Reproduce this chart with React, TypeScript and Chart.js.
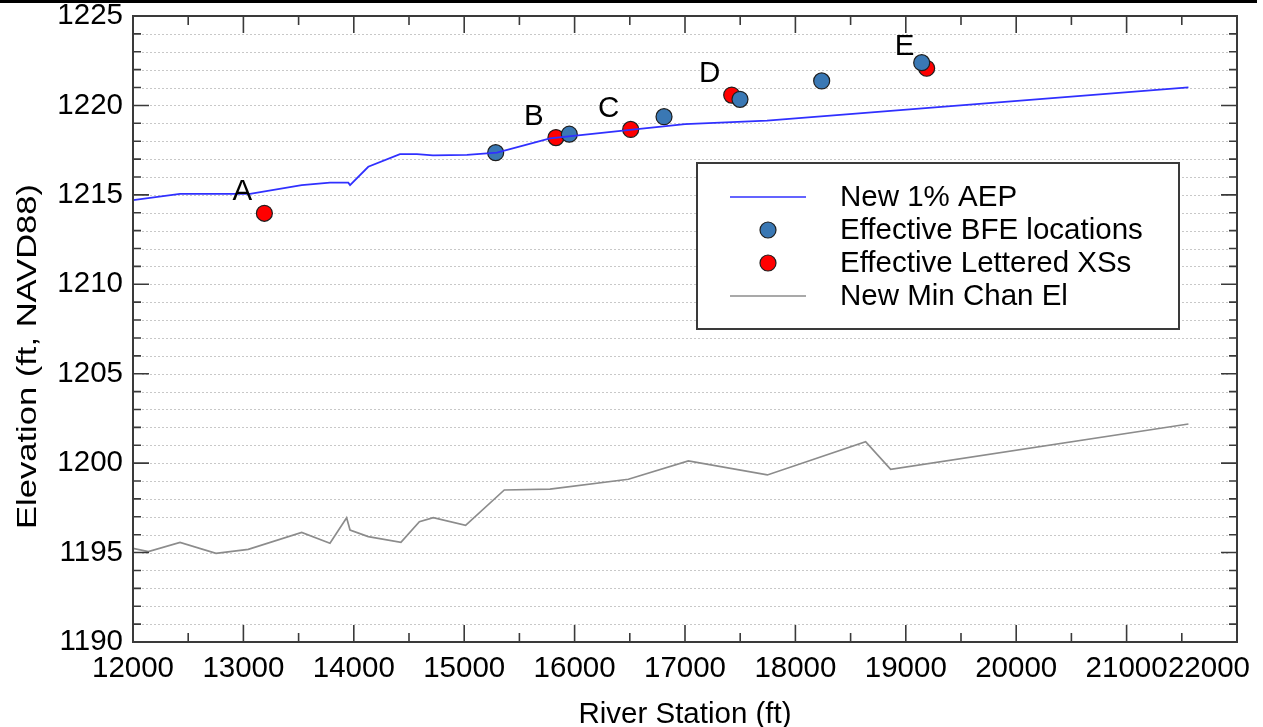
import React, { useEffect, useRef } from 'react';
import { Chart, registerables } from 'chart.js';

Chart.register(...registerables);

// ---- Data ----
const aepStations = [12000, 12426, 13060, 13528, 13784, 13950, 13966, 14131, 14418, 14572, 14717, 15025, 15297, 15777, 16502, 17000, 17743, 21560];
const aepElev = [1214.71, 1215.05, 1215.05, 1215.55, 1215.68, 1215.68, 1215.55, 1216.57, 1217.28, 1217.28, 1217.21, 1217.24, 1217.36, 1218.16, 1218.63, 1218.95, 1219.15, 1221.01];

const minChanStations = [12000, 12139, 12426, 12752, 13044, 13528, 13784, 13935, 13966, 14131, 14427, 14594, 14720, 15013, 15363, 15777, 16487, 17030, 17746, 18636, 18863, 21560];
const minChanElev = [1195.24, 1195.05, 1195.57, 1194.96, 1195.18, 1196.13, 1195.52, 1196.95, 1196.26, 1195.89, 1195.57, 1196.73, 1196.95, 1196.52, 1198.5, 1198.55, 1199.1, 1200.12, 1199.34, 1201.2, 1199.65, 1202.19];

const bfeStations = [15285, 15952, 16810, 17498, 18238, 19144];
const bfeElev = [1217.36, 1218.39, 1219.37, 1220.34, 1221.37, 1222.39];

const xsStations = [13190, 15831, 16508, 17423, 19189];
const xsElev = [1213.97, 1218.2, 1218.66, 1220.58, 1222.08];
const xsLetters = ['A', 'B', 'C', 'D', 'E'];

const xTickValues = [12000, 13000, 14000, 15000, 16000, 17000, 18000, 19000, 20000, 21000, 22000];
const yTickValues = [1190, 1195, 1200, 1205, 1210, 1215, 1220, 1225];

const legendLabels = ['New 1% AEP', 'Effective BFE locations', 'Effective Lettered XSs', 'New Min Chan El'];
const xTitle = 'River Station (ft)';
const yTitle = 'Elevation (ft, NAVD88)';

// ---- Styles ----
const FONT = '"Liberation Sans", Arial, sans-serif';
const BLUE_LINE = '#3030ff';
const GRAY_LINE = '#8c8c8c';
const BFE_FILL = '#3a78b4';
const XS_FILL = '#ff0000';
const MARKER_EDGE = '#1e1e1e';
const FRAME = '#3a3a3a';
const MARKER_R = 8;

const toXY = (xs: number[], ys: number[]) => xs.map((x, i) => ({ x, y: ys[i] }));

const decorPlugin = {
  id: 'decor',
  beforeDatasetsDraw(chart: any) {
    const { ctx, chartArea: a, scales } = chart;
    const y = scales.y;
    ctx.save();
    ctx.strokeStyle = '#c8c8c8';
    ctx.lineWidth = 1;
    ctx.setLineDash([2, 2]);
    for (let v = y.min + 1; v < y.max; v++) {
      const py = Math.round(y.getPixelForValue(v)) + 0.5;
      ctx.beginPath();
      ctx.moveTo(a.left + 9, py);
      ctx.lineTo(a.right - 9, py);
      ctx.stroke();
    }
    ctx.restore();
  },
  afterDatasetsDraw(chart: any) {
    const { ctx, chartArea: a, scales } = chart;
    const x = scales.x;
    const y = scales.y;
    ctx.save();
    // ticks
    ctx.strokeStyle = FRAME;
    ctx.lineWidth = 1.6;
    ctx.beginPath();
    for (let v = y.min; v <= y.max; v++) {
      const len = v % 5 === 0 ? 16 : 8;
      const py = y.getPixelForValue(v);
      ctx.moveTo(a.left, py);
      ctx.lineTo(a.left + len, py);
      ctx.moveTo(a.right, py);
      ctx.lineTo(a.right - len, py);
    }
    for (let v = x.min; v <= x.max; v += 500) {
      const len = v % 1000 === 0 ? 17 : 9;
      const px = x.getPixelForValue(v);
      ctx.moveTo(px, a.bottom);
      ctx.lineTo(px, a.bottom - len);
      ctx.moveTo(px, a.top);
      ctx.lineTo(px, a.top + len);
    }
    ctx.stroke();
    // frame
    ctx.lineWidth = 2;
    ctx.strokeRect(a.left, a.top, a.right - a.left, a.bottom - a.top);

    // x tick labels (last one kept inside the picture)
    ctx.fillStyle = '#000';
    ctx.font = `29.5px ${FONT}`;
    ctx.textAlign = 'left';
    ctx.textBaseline = 'alphabetic';
    xTickValues.forEach((v) => {
      const t = String(v);
      const w = ctx.measureText(t).width;
      let left = x.getPixelForValue(v) - w / 2;
      if (left + w > chart.width - 13) left = chart.width - 13 - w;
      ctx.fillText(t, left, a.bottom + 35);
    });

    // x title
    ctx.textAlign = 'center';
    ctx.font = `29.5px ${FONT}`;
    ctx.fillText(xTitle, (a.left + a.right) / 2, a.bottom + 81);

    // letter labels
    const meta = chart.getDatasetMeta(3);
    ctx.font = `29.5px ${FONT}`;
    ctx.textAlign = 'center';
    ctx.textBaseline = 'middle';
    meta.data.forEach((pt: any, i: number) => {
      ctx.fillText(xsLetters[i], pt.x - 22, pt.y - 21);
    });

    // legend
    const lx = 697, ly = 163, lw = 482, lh = 166;
    ctx.fillStyle = '#fff';
    ctx.fillRect(lx, ly, lw, lh);
    ctx.strokeStyle = FRAME;
    ctx.lineWidth = 2;
    ctx.strokeRect(lx, ly, lw, lh);
    const rows = [197, 230, 263, 296];
    ctx.lineWidth = 1.7;
    ctx.strokeStyle = BLUE_LINE;
    ctx.beginPath(); ctx.moveTo(730, rows[0]); ctx.lineTo(806, rows[0]); ctx.stroke();
    ctx.strokeStyle = GRAY_LINE;
    ctx.beginPath(); ctx.moveTo(730, rows[3]); ctx.lineTo(806, rows[3]); ctx.stroke();
    const drawMarker = (cx: number, cy: number, fill: string) => {
      ctx.beginPath();
      ctx.arc(cx, cy, MARKER_R, 0, Math.PI * 2);
      ctx.fillStyle = fill;
      ctx.fill();
      ctx.lineWidth = 1.2;
      ctx.strokeStyle = MARKER_EDGE;
      ctx.stroke();
    };
    drawMarker(768, rows[1], BFE_FILL);
    drawMarker(768, rows[2], XS_FILL);
    ctx.fillStyle = '#000';
    ctx.textAlign = 'left';
    ctx.textBaseline = 'middle';
    ctx.font = `29.5px ${FONT}`;
    legendLabels.forEach((t, i) => ctx.fillText(t, 840, rows[i] + 1));

    // y title (stretched along its length like the reference)
    ctx.save();
    ctx.translate(36, 356.5);
    ctx.rotate(-Math.PI / 2);
    ctx.scale(1.28, 1);
    ctx.font = `27px ${FONT}`;
    ctx.textAlign = 'center';
    ctx.textBaseline = 'alphabetic';
    ctx.fillStyle = '#000';
    ctx.fillText(yTitle, 0, 0);
    ctx.restore();

    ctx.restore();
  },
};

export default function App() {
  const ref = useRef<HTMLCanvasElement | null>(null);

  useEffect(() => {
    if (!ref.current) return;
    const chart = new Chart(ref.current, {
      type: 'scatter',
      data: {
        datasets: [
          {
            label: legendLabels[0],
            data: toXY(aepStations, aepElev),
            showLine: true,
            borderColor: BLUE_LINE,
            borderWidth: 1.8,
            pointRadius: 0,
            tension: 0,
            order: 1,
          },
          {
            label: legendLabels[3],
            data: toXY(minChanStations, minChanElev),
            showLine: true,
            borderColor: GRAY_LINE,
            borderWidth: 1.7,
            pointRadius: 0,
            tension: 0,
            order: 2,
          },
          {
            label: legendLabels[1],
            data: toXY(bfeStations, bfeElev),
            pointRadius: MARKER_R,
            pointBackgroundColor: BFE_FILL,
            pointBorderColor: MARKER_EDGE,
            pointBorderWidth: 1.2,
            order: 3,
          },
          {
            label: legendLabels[2],
            data: toXY(xsStations, xsElev),
            pointRadius: MARKER_R,
            pointBackgroundColor: XS_FILL,
            pointBorderColor: MARKER_EDGE,
            pointBorderWidth: 1.2,
            order: 4,
          },
        ],
      },
      options: {
        responsive: false,
        animation: false,
        devicePixelRatio: 1,
        layout: { padding: { left: 0, top: 16, right: 26, bottom: 0 } },
        plugins: {
          legend: { display: false },
          tooltip: { enabled: false },
        },
        scales: {
          x: {
            type: 'linear',
            min: xTickValues[0],
            max: xTickValues[xTickValues.length - 1],
            afterBuildTicks: (s: any) => {
              s.ticks = xTickValues.map((v) => ({ value: v }));
            },
            afterFit: (s: any) => {
              s.height = 85;
              s.paddingLeft = 0;
              s.paddingRight = 0;
            },
            grid: { display: false, drawTicks: false },
            border: { display: false },
            ticks: { display: false },
          },
          y: {
            type: 'linear',
            min: yTickValues[0],
            max: yTickValues[yTickValues.length - 1],
            afterBuildTicks: (s: any) => {
              s.ticks = yTickValues.map((v) => ({ value: v }));
            },
            afterFit: (s: any) => {
              s.width = 133;
              s.paddingTop = 0;
              s.paddingBottom = 0;
            },
            grid: { display: false, drawTicks: false },
            border: { display: false },
            ticks: {
              padding: 10,
              color: '#000',
              font: { family: FONT, size: 29.5 },
              callback: (v: any) => String(v),
            },
          },
        },
      },
      plugins: [decorPlugin],
    } as any);
    return () => chart.destroy();
  }, []);

  return (
    <div style={{ position: 'absolute', left: 0, top: 0, width: 1263, height: 727, background: '#fff' }}>
      <canvas ref={ref} width={1263} height={727} style={{ display: 'block', width: 1263, height: 727 }} />
      <div style={{ position: 'absolute', left: 0, top: 0, width: 1257, height: 3, background: '#000' }} />
    </div>
  );
}
